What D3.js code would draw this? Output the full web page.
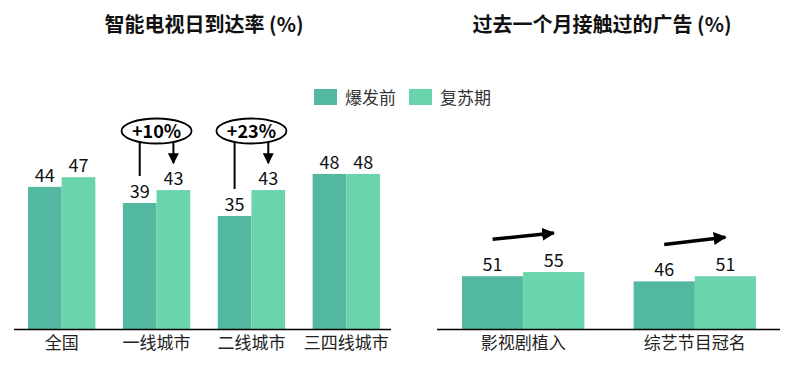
<!DOCTYPE html>
<html><head><meta charset="utf-8">
<script src="https://cdn.jsdelivr.net/npm/d3@7"></script>
<style>body{margin:0;background:#fff}svg{display:block}text{font-family:"Noto Sans CJK SC","Noto Sans",sans-serif}</style>
</head><body>
<script>
const seriesNames = ["爆发前", "复苏期"];
const colors = ["#52B8A0", "#6AD4AC"];
const leftTitle = "智能电视日到达率 (%)";
const leftCategories = ["全国", "一线城市", "二线城市", "三四线城市"];
const leftBefore = [44, 39, 35, 48];
const leftAfter = [47, 43, 43, 48];
const leftGrowth = [null, "+10%", "+23%", null];
const rightTitle = "过去一个月接触过的广告 (%)";
const rightCategories = ["影视剧植入", "综艺节目冠名"];
const rightBefore = [51, 46];
const rightAfter = [55, 51];

const W = 800, H = 365;
const svg = d3.select("body").append("svg").attr("width", W).attr("height", H);
const defs = svg.append("defs");
defs.append("marker").attr("id","ah").attr("viewBox","0 0 10 10").attr("refX",9).attr("refY",5)
  .attr("markerWidth",11).attr("markerHeight",11).attr("markerUnits","userSpaceOnUse").attr("orient","auto")
  .append("path").attr("d","M0,0L10,5L0,10Z").attr("fill","#000");
defs.append("marker").attr("id","ah2").attr("viewBox","0 0 10 10").attr("refX",9).attr("refY",5)
  .attr("markerWidth",13).attr("markerHeight",13).attr("markerUnits","userSpaceOnUse").attr("orient","auto")
  .append("path").attr("d","M0,0L10,5L0,10Z").attr("fill","#000");

const baseY = 329;

function panel(cfg){
  const g = svg.append("g");
  const x0 = d3.scaleBand().domain(cfg.cats).range([cfg.x0, cfg.x1]).paddingInner(cfg.padIn).paddingOuter(0);
  const x1 = d3.scaleBand().domain([0,1]).range([0, x0.bandwidth()]);
  const y = d3.scaleLinear().domain([0, 100]).range([baseY, baseY - cfg.pxPer100]);
  const data = cfg.cats.map((c,i)=>({c, v:[cfg.before[i], cfg.after[i]]}));
  const grp = g.selectAll("g.grp").data(data).join("g").attr("transform", d=>`translate(${x0(d.c)},0)`);
  grp.selectAll("rect").data(d=>d.v.map((v,k)=>({v,k}))).join("rect")
    .attr("x", d=>x1(d.k)).attr("width", x1.bandwidth())
    .attr("y", d=>y(d.v)).attr("height", d=>baseY - y(d.v))
    .attr("fill", d=>colors[d.k]);
  grp.selectAll("text.val").data(d=>d.v.map((v,k)=>({v,k}))).join("text").attr("class","val")
    .attr("x", d=>x1(d.k)+x1.bandwidth()/2).attr("y", d=>y(d.v)-5)
    .attr("text-anchor","middle").attr("font-size",18).attr("fill","#111").attr("font-family","'Open Sans',sans-serif").text(d=>d.v);
  g.append("line").attr("x1",cfg.ax0).attr("x2",cfg.ax1).attr("y1",baseY+0.5).attr("y2",baseY+0.5).attr("stroke","#000").attr("stroke-width",1.5);
  const axis = d3.axisBottom(x0).tickSize(0).tickPadding(8);
  const ag = g.append("g").attr("transform",`translate(0,${baseY})`).call(axis);
  ag.select(".domain").remove();
  ag.selectAll("text").attr("font-size",17).attr("fill","#222").attr("font-family","'Noto Sans CJK SC',sans-serif");
  g.append("text").attr("x",cfg.titleX).attr("y",32).attr("text-anchor","middle").attr("font-size",20).attr("font-weight","bold").attr("fill","#111").text(cfg.title);
  return {x0,x1,y,g};
}

const L = panel({cats:leftCategories, before:leftBefore, after:leftAfter, x0:28, x1:380, padIn:0.29, ax0:14, ax1:391, pxPer100:323, title:leftTitle, titleX:204});
const R = panel({cats:rightCategories, before:rightBefore, after:rightAfter, x0:462, x1:756, padIn:0.287, ax0:437, ax1:780, pxPer100:103.5, title:rightTitle, titleX:602});

// Growth annotations left
leftCategories.forEach((c,i)=>{
  if(!leftGrowth[i]) return;
  const bx = L.x0(c), bw = L.x1.bandwidth();
  const cx = bx + bw, cy = 131;
  const lx = bx + bw/2, ax = bx + bw*1.5;
  L.g.append("line").attr("x1",lx).attr("x2",lx).attr("y1",cy+10).attr("y2",L.y(leftBefore[i]) - 27).attr("stroke","#000").attr("stroke-width",2);
  L.g.append("line").attr("x1",ax).attr("x2",ax).attr("y1",cy+10).attr("y2",L.y(leftAfter[i]) - 27).attr("stroke","#000").attr("stroke-width",2).attr("marker-end","url(#ah)");
  L.g.append("ellipse").attr("cx",cx).attr("cy",cy).attr("rx",35).attr("ry",12.5).attr("fill","#fff").attr("stroke","#000").attr("stroke-width",1.8);
  L.g.append("text").attr("x",cx).attr("y",cy+6.5).attr("text-anchor","middle").attr("font-size",18).attr("font-weight","bold").attr("font-family","'Open Sans',sans-serif").text(leftGrowth[i]);
});

// Trend arrows right
rightCategories.forEach((c,i)=>{
  const bx = R.x0(c), bw = R.x1.bandwidth();
  const y1 = R.y(rightBefore[i]) - 37, y2 = R.y(rightAfter[i]) - 39;
  R.g.append("line").attr("x1",bx+bw/2).attr("x2",bx+bw*1.5).attr("y1",y1).attr("y2",y2)
    .attr("stroke","#000").attr("stroke-width",3.5).attr("marker-end","url(#ah2)");
});

// Legend
const lg = svg.append("g");
seriesNames.forEach((s,i)=>{
  const x = 314 + i*95;
  lg.append("rect").attr("x",x).attr("y",89).attr("width",23).attr("height",16).attr("fill",colors[i]);
  lg.append("text").attr("x",x+31).attr("y",103.5).attr("font-size",17).attr("fill","#333").text(s);
});
</script>
</body></html>
